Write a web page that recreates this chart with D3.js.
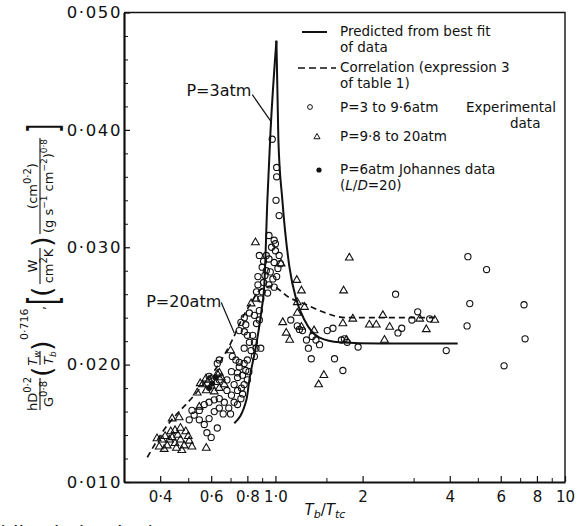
<!DOCTYPE html>
<html>
<head>
<meta charset="utf-8">
<script src="https://cdn.jsdelivr.net/npm/d3@7"></script>
<style>
  html, body { margin: 0; padding: 0; background: #fff; }
  svg { display: block; }
</style>
</head>
<body>
<svg id="chart" width="583" height="526"></svg>
<script>
// ---- axis ticks ----
const xTickValues = [0.4, 0.6, 0.8, 1, 2, 4, 6, 8, 10];
const xTickLabels = ["0·4", "0·6", "0·8", "1·0", "2", "4", "6", "8", "10"];
const xMinorTicks = [0.3, 0.5, 0.7, 0.9, 1.5, 3, 5, 7, 9];
const yTickValues = [0.010, 0.020, 0.030, 0.040, 0.050];
const yTickLabels = ["0·010", "0·020", "0·030", "0·040", "0·050"];
const yMinorTicks = [0.012, 0.014, 0.016, 0.018, 0.022, 0.024, 0.026, 0.028,
                     0.032, 0.034, 0.036, 0.038, 0.042, 0.044, 0.046, 0.048];

// ---- predicted curve from best fit (two branches meeting at the peak) ----
const fitRising = [[0.721, 0.0150], [0.794, 0.0170], [0.813, 0.0187], [0.860, 0.0218],
                   [0.895, 0.0246], [0.916, 0.0269], [0.938, 0.0340], [0.961, 0.0397],
                   [1.008, 0.0476]];
const fitFalling = [[1.008, 0.0476], [1.024, 0.0391], [1.057, 0.0340], [1.118, 0.0283],
                    [1.182, 0.0255], [1.260, 0.0238], [1.420, 0.0223], [1.665, 0.0219],
                    [2.29, 0.0218], [4.26, 0.0218]];

// ---- correlation (expression 3 of table 1) ----
const correlation = [[0.361, 0.0121], [0.406, 0.0142], [0.533, 0.0176], [0.640, 0.0201],
                     [0.710, 0.0221], [0.763, 0.0238], [0.826, 0.0253], [0.880, 0.0263],
                     [0.969, 0.0267], [1.118, 0.0257], [1.28, 0.0251], [1.454, 0.0245],
                     [1.76, 0.0240], [2.29, 0.0240], [3.64, 0.0240]];

// ---- experimental data, P = 3 to 9.6 atm ----
const lowPressure = [
  [1.005, 0.0340], [1.03, 0.0327], [0.95, 0.0310], [0.99, 0.0306], [1.00, 0.0303], [0.97, 0.0300],
  [1.00, 0.0297], [0.88, 0.0293], [0.93, 0.0293], [0.91, 0.0288], [0.95, 0.0290], [0.99, 0.0287],
  [1.03, 0.0293], [0.90, 0.0283], [0.93, 0.0280], [0.96, 0.0279], [1.04, 0.0286], [0.87, 0.0275],
  [0.92, 0.0276], [0.98, 0.0273], [1.01, 0.0275], [0.87, 0.0268], [0.91, 0.0270], [0.95, 0.0268],
  [0.99, 0.0266], [0.86, 0.0262], [0.90, 0.0262], [0.94, 0.0261], [0.89, 0.0256], [1.02, 0.0282],
  [0.975, 0.0392], [1.01, 0.0368], [1.01, 0.0360],
  [0.813, 0.0244], [0.846, 0.0242], [0.88, 0.0246], [0.88, 0.0238], [0.86, 0.0235], [0.76, 0.0236],
  [0.781, 0.0240], [0.79, 0.0234], [0.75, 0.0229], [0.781, 0.0228], [0.80, 0.0225], [0.835, 0.0225],
  [0.846, 0.0219], [0.813, 0.0219], [0.857, 0.0214], [0.89, 0.0214], [0.824, 0.0212],
  [0.71, 0.0207], [0.73, 0.0204], [0.75, 0.0198], [0.78, 0.0201], [0.80, 0.0204], [0.78, 0.0214],
  [0.846, 0.0207], [0.75, 0.0202],
  [0.705, 0.0194], [0.74, 0.0189], [0.77, 0.0191], [0.80, 0.0187], [0.72, 0.0183], [0.68, 0.0187],
  [0.763, 0.0180], [0.81, 0.0194], [0.79, 0.0195], [0.74, 0.0193], [0.64, 0.0187], [0.63, 0.0201],
  [0.64, 0.0204], [0.59, 0.0190],
  [0.705, 0.0174], [0.74, 0.0178], [0.78, 0.0183], [0.72, 0.0168], [0.76, 0.0171], [0.68, 0.0178],
  [0.74, 0.0166], [0.77, 0.0175],
  [0.504, 0.0153], [0.524, 0.0157], [0.546, 0.0161], [0.568, 0.0166], [0.59, 0.0168], [0.615, 0.0170],
  [0.64, 0.0171], [0.666, 0.0168], [0.546, 0.0153], [0.568, 0.0149], [0.59, 0.0154], [0.615, 0.0160],
  [0.64, 0.0163], [0.58, 0.0142], [0.60, 0.0138], [0.63, 0.0146], [0.515, 0.0161],
  [0.69, 0.0163], [0.70, 0.0158], [0.66, 0.0158],
  [1.19, 0.0233], [1.21, 0.0230], [1.24, 0.0229], [1.28, 0.0221], [1.33, 0.0205], [1.60, 0.0205],
  [1.71, 0.0195], [1.93, 0.0215], [1.42, 0.0217], [1.38, 0.0221], [1.34, 0.0224], [1.51, 0.0229],
  [1.58, 0.0231], [1.69, 0.0221], [1.73, 0.0222], [1.77, 0.0219], [1.13, 0.0238], [1.30, 0.0214],
  [2.60, 0.0260], [3.10, 0.0245], [2.96, 0.0238], [3.41, 0.0239], [2.65, 0.0227], [2.73, 0.0231],
  [3.89, 0.0212], [4.62, 0.0292], [5.36, 0.0281], [4.69, 0.0252], [4.59, 0.0233], [7.22, 0.0251],
  [7.28, 0.0222], [6.16, 0.0199]
];

// ---- experimental data, P = 9.8 to 20 atm ----
const highPressure = [
  [0.406, 0.0136], [0.416, 0.0139], [0.43, 0.0136], [0.423, 0.0131], [0.44, 0.0138], [0.45, 0.0133],
  [0.46, 0.0140], [0.47, 0.0136], [0.484, 0.0131], [0.50, 0.0139], [0.435, 0.0143], [0.45, 0.0144],
  [0.47, 0.0146], [0.49, 0.0143], [0.504, 0.0135], [0.397, 0.0130], [0.413, 0.0128], [0.455, 0.0129],
  [0.475, 0.0127], [0.515, 0.0130], [0.39, 0.0137], [0.44, 0.0154], [0.465, 0.0155], [0.546, 0.0164],
  [0.577, 0.0129], [0.537, 0.0176],
  [0.577, 0.0178], [0.60, 0.0182], [0.625, 0.0185], [0.65, 0.0189], [0.59, 0.0187], [0.615, 0.0177],
  [0.64, 0.0180], [0.56, 0.0183], [0.666, 0.0183], [0.63, 0.0192], [0.55, 0.0184], [0.575, 0.0188],
  [0.64, 0.0193], [0.70, 0.0212],
  [0.824, 0.0252], [0.857, 0.0256], [0.853, 0.0304],
  [1.046, 0.0286], [1.80, 0.0291], [1.72, 0.0263], [1.185, 0.0272], [1.23, 0.0263], [1.19, 0.0253],
  [1.26, 0.0249], [1.19, 0.0244], [1.06, 0.0236], [1.09, 0.0227], [1.12, 0.0221], [1.23, 0.0232],
  [1.36, 0.0229], [1.71, 0.0235], [1.85, 0.0239], [2.11, 0.0234], [2.23, 0.0234], [1.76, 0.0221],
  [1.47, 0.0191], [1.41, 0.0183],
  [2.35, 0.0242], [2.38, 0.0221], [2.48, 0.0232], [3.15, 0.0239], [3.32, 0.0230], [3.55, 0.0238]
];

// ---- Johannes data, P = 6 atm, L/D = 20 ----
const johannes = [[0.605, 0.0184], [0.62, 0.0189], [0.59, 0.0180]];

// ---- labelled pressures on the curves ----
const annotationLabels = ["P=3atm", "P=20atm"];
const annotationText = [[0.826, 0.0429], [0.650, 0.0249]];
const annotationLeader = [[[0.832, 0.0430], [0.966, 0.0407]], [[0.650, 0.0253], [0.721, 0.0227]]];

const FONT = "'DejaVu Sans', 'Liberation Sans', sans-serif";
const INK = "#111";
const svg = d3.select("#chart");

const x = d3.scaleLog().domain([0.3, 10]).range([124, 565]);
const y = d3.scaleLinear().domain([0.010, 0.050]).range([482, 12.5]);

// frame (top and right edges)
svg.append("path")
  .attr("d", `M${x(0.3)},${y(0.05)}H${x(10)}V${y(0.01)}`)
  .attr("fill", "none").attr("stroke", INK).attr("stroke-width", 1.4);

// x axis
const gx = svg.append("g").attr("transform", `translate(0,${y(0.010)})`)
  .call(d3.axisBottom(x).tickValues(xTickValues).tickFormat((d, i) => xTickLabels[i])
        .tickSize(-6).tickSizeOuter(0).tickPadding(9));
gx.select(".domain").attr("stroke", INK).attr("stroke-width", 2);
gx.selectAll(".tick line").attr("stroke", INK).attr("stroke-width", 1.2);
gx.selectAll("text").attr("font-family", FONT).attr("font-size", 15).attr("fill", INK);
const gxm = svg.append("g").attr("transform", `translate(0,${y(0.010)})`)
  .call(d3.axisBottom(x).tickValues(xMinorTicks).tickFormat("").tickSize(-4).tickSizeOuter(0));
gxm.select(".domain").remove();
gxm.selectAll(".tick line").attr("stroke", INK).attr("stroke-width", 1);

// y axis
const gy = svg.append("g").attr("transform", `translate(${x(0.3)},0)`)
  .call(d3.axisLeft(y).tickValues(yTickValues).tickFormat((d, i) => yTickLabels[i])
        .tickSize(-6).tickSizeOuter(0).tickPadding(2));
gy.select(".domain").attr("stroke", INK).attr("stroke-width", 2.2);
gy.selectAll(".tick line").attr("stroke", INK).attr("stroke-width", 1.2);
gy.selectAll("text").attr("font-family", FONT).attr("font-size", 16.5)
  .attr("letter-spacing", 1.6).attr("fill", INK);
const gym = svg.append("g").attr("transform", `translate(${x(0.3)},0)`)
  .call(d3.axisLeft(y).tickValues(yMinorTicks).tickFormat("").tickSize(-4).tickSizeOuter(0));
gym.select(".domain").remove();
gym.selectAll(".tick line").attr("stroke", INK).attr("stroke-width", 1);

// curves
const line = d3.line().x(d => x(d[0])).y(d => y(d[1])).curve(d3.curveMonotoneX);
[fitRising, fitFalling].forEach(branch => {
  svg.append("path").attr("d", line(branch))
    .attr("fill", "none").attr("stroke", INK).attr("stroke-width", 2);
});
svg.append("path").attr("d", line(correlation))
  .attr("fill", "none").attr("stroke", INK).attr("stroke-width", 1.7)
  .attr("stroke-dasharray", "6,4");

// data points
svg.append("g").selectAll("circle").data(lowPressure).join("circle")
  .attr("cx", d => x(d[0])).attr("cy", d => y(d[1])).attr("r", 3.1)
  .attr("fill", "none").attr("stroke", INK).attr("stroke-width", 1.1);
const tri = d3.symbol().type(d3.symbolTriangle).size(26);
svg.append("g").selectAll("path").data(highPressure).join("path")
  .attr("transform", d => `translate(${x(d[0])},${y(d[1])})`).attr("d", tri)
  .attr("fill", "none").attr("stroke", INK).attr("stroke-width", 1.1);
svg.append("g").selectAll("circle").data(johannes).join("circle")
  .attr("cx", d => x(d[0])).attr("cy", d => y(d[1])).attr("r", 3)
  .attr("fill", INK);

// pressure labels with leader lines
annotationLabels.forEach((label, i) => {
  svg.append("text").attr("x", x(annotationText[i][0])).attr("y", y(annotationText[i][1]))
    .attr("text-anchor", "end").attr("font-family", FONT).attr("font-size", 16)
    .attr("fill", INK).text(label);
  const [a, b] = annotationLeader[i];
  svg.append("line").attr("x1", x(a[0])).attr("y1", y(a[1])).attr("x2", x(b[0])).attr("y2", y(b[1]))
    .attr("stroke", INK).attr("stroke-width", 1.2);
});

// rich text helper: parts carry relative baseline shifts for super/subscripts
function rich(parent, px, py, fs, parts, anchor) {
  const t = parent.append("text").attr("x", px).attr("y", py)
    .attr("font-size", fs).attr("text-anchor", anchor || "start").attr("fill", INK);
  parts.forEach(p => {
    const s = t.append("tspan").text(p.t);
    if (p.dy) s.attr("dy", p.dy);
    if (p.fs) s.attr("font-size", p.fs);
    if (p.it) s.attr("font-style", "italic");
  });
  return t;
}

// legend
const lg = svg.append("g").attr("font-family", FONT).attr("font-size", 13);
lg.append("line").attr("x1", 302).attr("x2", 327).attr("y1", 32).attr("y2", 32)
  .attr("stroke", INK).attr("stroke-width", 2);
lg.append("line").attr("x1", 298).attr("x2", 336).attr("y1", 68).attr("y2", 68)
  .attr("stroke", INK).attr("stroke-width", 1.7).attr("stroke-dasharray", "7,4");
lg.append("circle").attr("cx", 310).attr("cy", 107).attr("r", 2.4)
  .attr("fill", "none").attr("stroke", INK).attr("stroke-width", 1);
lg.append("path").attr("transform", "translate(317,137)").attr("d", d3.symbol().type(d3.symbolTriangle).size(16))
  .attr("fill", "none").attr("stroke", INK).attr("stroke-width", 1);
lg.append("circle").attr("cx", 319).attr("cy", 170).attr("r", 2.6).attr("fill", INK);
rich(lg, 340, 36, 13.5, [{t: "Predicted from best fit"}]);
rich(lg, 340, 52, 13.5, [{t: "of data"}]);
rich(lg, 340, 72, 13.5, [{t: "Correlation (expression 3"}]);
rich(lg, 340, 88, 13.5, [{t: "of table 1)"}]);
rich(lg, 340, 112, 13.5, [{t: "P=3 to 9·6atm"}]);
rich(lg, 466, 112, 13.5, [{t: "Experimental"}]);
rich(lg, 510, 128, 13.5, [{t: "data"}]);
rich(lg, 340, 141, 13.5, [{t: "P=9·8 to 20atm"}]);
rich(lg, 340, 174, 13.5, [{t: "P=6atm Johannes data"}]);
rich(lg, 340, 190, 13.5, [{t: "("}, {t: "L", it: true}, {t: "/"}, {t: "D", it: true}, {t: "=20)"}]);

// x axis title
rich(svg.append("g").attr("font-family", FONT), 325, 515, 15,
  [{t: "T", it: true}, {t: "b", dy: 3, fs: 11, it: true}, {t: "/", dy: -3},
   {t: "T", it: true}, {t: "tc", dy: 3, fs: 11, it: true}], "middle");

// y axis title (rotated, built from fractions)
const yl = svg.append("g").attr("transform", "translate(40,266) rotate(-90)")
  .attr("font-family", FONT).attr("fill", INK);
function bar(x1, x2) {
  yl.append("line").attr("x1", x1).attr("x2", x2).attr("y1", 0).attr("y2", 0)
    .attr("stroke", INK).attr("stroke-width", 1.1);
}
function bracket(px, ch) {
  yl.append("text").attr("transform", `translate(${px},17) scale(0.6,1)`)
    .attr("font-size", 40).attr("fill", INK).text(ch);
}
rich(yl, -128, -3, 13, [{t: "hD"}, {t: "0·2", dy: -6, fs: 10}], "middle");
bar(-144, -112);
rich(yl, -128, 13, 13, [{t: "G"}, {t: "0·8", dy: -6, fs: 10}], "middle");
rich(yl, -111, 11, 27, [{t: "("}]);
rich(yl, -92, -3, 13, [{t: "T", it: true}, {t: "w", dy: 3, fs: 9, it: true}], "middle");
bar(-99, -85);
rich(yl, -92, 13, 13, [{t: "T", it: true}, {t: "b", dy: 3, fs: 9, it: true}], "middle");
rich(yl, -85, 11, 27, [{t: ")"}]);
rich(yl, -74, -12, 11, [{t: "0·716"}]);
rich(yl, -44, 5, 13, [{t: ","}]);
bracket(-39, "[");
rich(yl, -31, 11, 27, [{t: "("}]);
rich(yl, 0, -3, 13, [{t: "W"}], "middle");
bar(-18, 18);
rich(yl, 0, 13, 13, [{t: "cm"}, {t: "2", dy: -6, fs: 10}, {t: "K", dy: 6}], "middle");
rich(yl, 19, 11, 27, [{t: ")"}]);
rich(yl, 80, -3, 13, [{t: "(cm"}, {t: "0·2", dy: -6, fs: 10}, {t: ")", dy: 6}], "middle");
bar(32, 128);
rich(yl, 80, 13, 13, [{t: "(g s"}, {t: "−1", dy: -6, fs: 9}, {t: " cm", dy: 6},
  {t: "−2", dy: -6, fs: 9}, {t: ")", dy: 6}, {t: "0·8", dy: -6, fs: 9}], "middle");
bracket(133, "]");

// running caption line below the figure
svg.append("text").attr("x", -2).attr("y", 540).attr("font-family", FONT)
  .attr("font-size", 20).attr("fill", INK).text("(discrimination)");
</script>
</body>
</html>
